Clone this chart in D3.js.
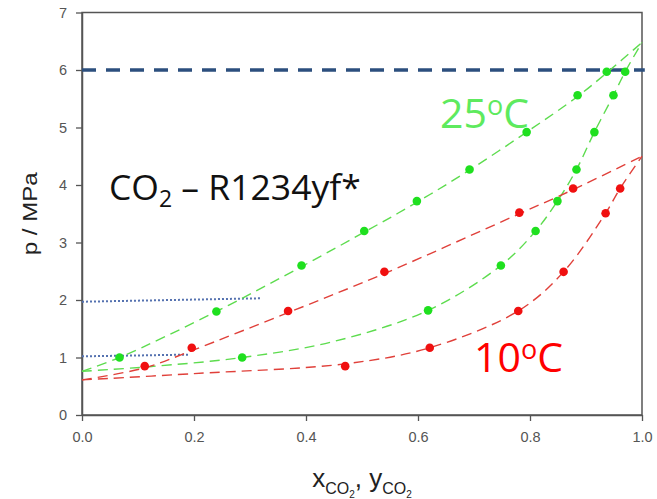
<!DOCTYPE html>
<html>
<head>
<meta charset="utf-8">
<script src="https://cdn.jsdelivr.net/npm/d3@7"></script>
<style>
  body { margin: 0; background: #fff; }
  text { font-family: Arial, "Liberation Sans", sans-serif; }
</style>
</head>
<body>
<div id="chart"></div>
<script>
// measured points (x_CO2 / y_CO2, p in MPa)
const liq25X = [0.067, 0.240, 0.392, 0.504, 0.598, 0.692, 0.794, 0.885, 0.937];
const liq25P = [1.00, 1.80, 2.60, 3.20, 3.72, 4.27, 4.92, 5.56, 5.97];
const vap25X = [0.286, 0.618, 0.748, 0.810, 0.849, 0.883, 0.915, 0.949, 0.970];
const vap25P = [1.00, 1.82, 2.60, 3.20, 3.72, 4.27, 4.92, 5.56, 5.97];
const liq10X = [0.112, 0.196, 0.368, 0.540, 0.781, 0.877];
const liq10P = [0.85, 1.17, 1.81, 2.49, 3.52, 3.94];
const vap10X = [0.470, 0.621, 0.779, 0.860, 0.935, 0.961];
const vap10P = [0.85, 1.17, 1.81, 2.49, 3.51, 3.94];

// fitted dashed curves
const fitLiq25 = [[0, 0.76], [0.067, 1.0], [0.240, 1.80], [0.392, 2.58], [0.504, 3.18], [0.598, 3.70], [0.692, 4.26], [0.794, 4.92], [0.885, 5.54], [0.937, 5.95], [1, 6.48]];
const fitVap25 = [[0, 0.76], [0.12, 0.84], [0.286, 1.0], [0.45, 1.28], [0.618, 1.82], [0.748, 2.60], [0.810, 3.20], [0.849, 3.72], [0.883, 4.27], [0.915, 4.92], [0.949, 5.56], [0.970, 5.97], [1, 6.48]];
const fitLiq10 = [[0, 0.61], [0.112, 0.82], [0.196, 1.12], [0.368, 1.78], [0.540, 2.46], [0.781, 3.50], [0.877, 3.92], [1, 4.50]];
const fitVap10 = [[0, 0.61], [0.20, 0.72], [0.470, 0.89], [0.621, 1.17], [0.779, 1.81], [0.860, 2.49], [0.935, 3.51], [0.961, 3.94], [1, 4.50]];

// blue reference lines
const refDashed = [[0, 6.0], [1.005, 6.0]];
const refDot1 = [[0, 1.02], [0.19, 1.05]];
const refDot2 = [[0, 1.97], [0.32, 2.03]];

const xTicks = [0, 0.2, 0.4, 0.6, 0.8, 1.0];
const yTicks = [0, 1, 2, 3, 4, 5, 6, 7];

let margin = { top: 12.5, right: 15, bottom: 84, left: 82 },
    width = 657 - margin.left - margin.right,
    height = 499 - margin.top - margin.bottom;

let svg = d3.select("#chart")
    .append("svg")
    .attr("width", 657)
    .attr("height", 499)
    .append("g")
    .attr("transform", "translate(" + margin.left + "," + margin.top + ")");

let x = d3.scaleLinear().domain([0, 1]).range([0, 560]);
let y = d3.scaleLinear().domain([0, 7]).range([402.5, 0]);

// frame
svg.append("rect")
    .attr("x", 0).attr("y", 0)
    .attr("width", x(1)).attr("height", y(0))
    .attr("fill", "none")
    .attr("stroke", "#555")
    .attr("stroke-width", 1.5);

// axes
let xAxis = svg.append("g")
    .attr("transform", "translate(0," + y(0) + ")")
    .call(d3.axisBottom(x).tickValues(xTicks).tickFormat(d3.format(".1f")).tickSizeInner(6).tickSizeOuter(0).tickPadding(11));
let yAxis = svg.append("g")
    .call(d3.axisLeft(y).tickValues(yTicks).tickFormat(d3.format("d")).tickSizeInner(6).tickSizeOuter(0).tickPadding(9));
[xAxis, yAxis].forEach(a => {
    a.selectAll("path").attr("stroke", "#555").attr("stroke-width", 1.5);
    a.selectAll("line").attr("stroke", "#555").attr("stroke-width", 1.3);
    a.selectAll("text").attr("fill", "#555").style("font-size", "14.5px");
});

// axis titles
svg.append("text")
    .attr("transform", "translate(-45," + y(3.5) + ") rotate(-90)")
    .attr("text-anchor", "middle")
    .attr("textLength", 83)
    .attr("lengthAdjust", "spacingAndGlyphs")
    .style("font-size", "21px")
    .attr("fill", "#222")
    .text("p / MPa");

let xt = svg.append("text")
    .attr("x", x(0.5))
    .attr("y", 474)
    .attr("text-anchor", "middle")
    .style("font-size", "26px")
    .attr("fill", "#222");
xt.append("tspan").text("x");
xt.append("tspan").attr("dy", 7).style("font-size", "16px").text("CO");
xt.append("tspan").attr("dy", 4).style("font-size", "10px").text("2");
xt.append("tspan").attr("dy", -11).text(", y");
xt.append("tspan").attr("dy", 7).style("font-size", "16px").text("CO");
xt.append("tspan").attr("dy", 4).style("font-size", "10px").text("2");

// reference lines
let line = d3.line().x(d => x(d[0])).y(d => y(d[1]));
svg.append("path").datum(refDashed)
    .attr("d", line)
    .attr("fill", "none")
    .attr("stroke", "#2c4f7e")
    .attr("stroke-width", 3.5)
    .attr("stroke-dasharray", "14,10");
[refDot1, refDot2].forEach(r => {
    svg.append("path").datum(r)
        .attr("d", line)
        .attr("fill", "none")
        .attr("stroke", "#5572b0")
        .attr("stroke-width", 2)
        .attr("stroke-dasharray", "2,2");
});

// fitted curves
let curve = d3.line().x(d => x(d[0])).y(d => y(d[1])).curve(d3.curveCatmullRom.alpha(0.5));
[[fitLiq25, "#5ddc4e"], [fitVap25, "#5ddc4e"], [fitLiq10, "#e0403a"], [fitVap10, "#e0403a"]].forEach(c => {
    svg.append("path").datum(c[0])
        .attr("d", curve)
        .attr("fill", "none")
        .attr("stroke", c[1])
        .attr("stroke-width", 1.4)
        .attr("stroke-dasharray", "10,6");
});

// measured points
function dots(xs, ps, color) {
    svg.append("g")
        .selectAll("circle")
        .data(xs.map((v, i) => [v, ps[i]]))
        .enter()
        .append("circle")
        .attr("cx", d => x(d[0]))
        .attr("cy", d => y(d[1]))
        .attr("r", 4.3)
        .style("fill", color);
}
dots(liq25X, liq25P, "#1fe01f");
dots(vap25X, vap25P, "#1fe01f");
dots(liq10X, liq10P, "#f01010");
dots(vap10X, vap10P, "#f01010");

// annotations
let sys = svg.append("text")
    .attr("x", 27)
    .attr("y", 187.5)
    .style("font-family", "'Open Sans', sans-serif")
    .style("font-size", "35.5px")
    .attr("fill", "#111");
sys.append("tspan").text("CO");
sys.append("tspan").attr("dy", 7).style("font-size", "23px").text("2");
sys.append("tspan").attr("dy", -7).text(" \u2013 R1234yf*");

function tempLabel(tx, ty, num, color) {
    let t = svg.append("text")
        .attr("x", tx).attr("y", ty)
        .style("font-family", "'Open Sans', sans-serif")
        .style("font-size", "41px")
        .attr("fill", color);
    t.append("tspan").text(num);
    t.append("tspan").attr("dy", -13).style("font-size", "27px").text("o");
    t.append("tspan").attr("dy", 13).text("C");
}
tempLabel(358, 115.5, "25", "#5eea5e");
tempLabel(392, 359.5, "10", "#ff0000");
</script>
</body>
</html>
